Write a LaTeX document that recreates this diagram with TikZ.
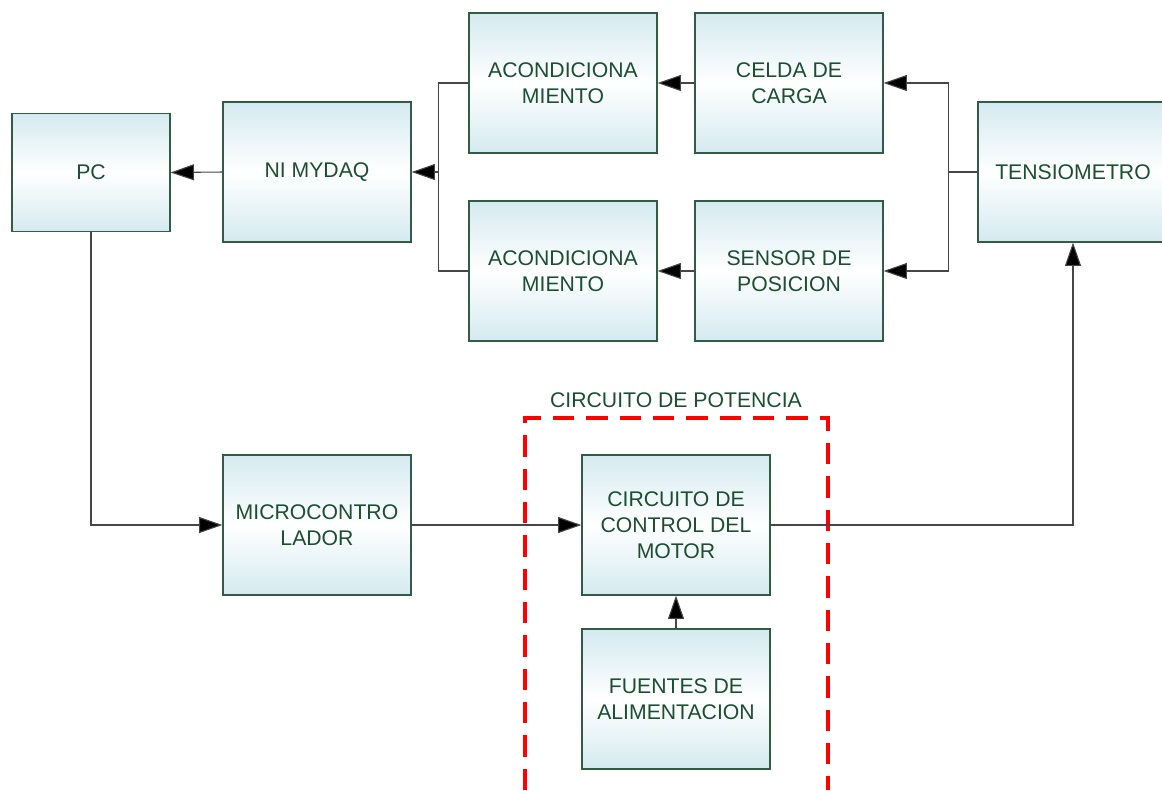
\documentclass[tikz,border=0pt]{standalone}
\usepackage{fontspec}
\setmainfont{Liberation Sans}
\usepackage{tikz}
\usetikzlibrary{positioning,arrows.meta}
\definecolor{boxBlue}{RGB}{212,234,240}
\definecolor{boxBorder}{RGB}{50,92,70}
\definecolor{textGreen}{RGB}{28,78,48}
\definecolor{lineGray}{RGB}{70,70,70}
\tikzstyle{diagram} = [x = 0.75pt, y = -0.75pt]
\tikzstyle{blockStyle} = [draw=boxBorder, line width=0.9pt, top color=boxBlue, bottom color=boxBlue, middle color=white, text=textGreen, font=\fontsize{15.9}{19.5}\selectfont, align=center, minimum width=141pt, minimum height=105pt, inner sep=0pt]
\tikzstyle{smallBlock} = [blockStyle, minimum width=118.5pt, minimum height=89pt]
\tikzstyle{arrowLine} = [draw=lineGray, line width=0.8pt, -{Triangle[length=17.5pt, width=12pt, fill=black]}]
\tikzstyle{plainLine} = [draw=lineGray, line width=0.8pt]
\tikzstyle{powerFrame} = [draw=red, line width=2.3pt, dash pattern=on 16pt off 9pt]
\begin{document}
\begin{tikzpicture}[diagram]
        \useasboundingbox (0,0) rectangle (1162,790);
        % blocks
        \node [smallBlock] (pc) at (91,172.5) {PC};
        \node [blockStyle] (daq) at (317,172) {NI MYDAQ};
        \node [blockStyle] (acondA) at (563,83) {ACONDICIONA\\MIENTO};
        \node [blockStyle] (celda) at (789,83) {CELDA DE\\CARGA};
        \node [blockStyle] (acondB) at (563,271) {ACONDICIONA\\MIENTO};
        \node [blockStyle] (sensor) at (789,271) {SENSOR DE\\POSICION};
        \node [blockStyle, minimum width=142.5pt] (tension) at (1073,172) {TENSIOMETRO};
        \node [blockStyle] (micro) at (317,525) {MICROCONTRO\\LADOR};
        \node [blockStyle] (motor) at (676,525) {CIRCUITO DE\\CONTROL DEL\\MOTOR};
        \node [blockStyle] (fuentes) at (676,699) {FUENTES DE\\ALIMENTACION};

        % circuito de potencia
        \draw [powerFrame] (525,790) -- (525,418) -- (828,418) -- (828,790);
        \node [text=textGreen, font=\fontsize{15.9}{17}\selectfont] (potencia) at (676,400) {CIRCUITO DE POTENCIA};

        % connectors
        \draw [plainLine] (tension.west) -- ++(-29,0) coordinate (tensSplit);
        \draw [arrowLine] (tensSplit) |- (celda.east);
        \draw [arrowLine] (tensSplit) |- (sensor.east);
        \draw [arrowLine] (celda.west) -- (acondA.east);
        \draw [arrowLine] (sensor.west) -- (acondB.east);
        \draw [plainLine] (acondA.west) -- ++(-30,0) coordinate (acondSplitA);
        \draw [plainLine] (acondB.west) -- ++(-30,0) coordinate (acondSplitB);
        \draw [plainLine] (acondSplitA) -- (acondSplitB);
        \draw [arrowLine] (acondSplitA |- daq.east) -- (daq.east);
        \draw [arrowLine] (daq.west) -- (pc.east);
        \draw [arrowLine] (pc.south) |- (micro.west);
        \draw [arrowLine] (micro.east) -- (motor.west);
        \draw [arrowLine] (motor.east) -| (tension.south);
        \draw [arrowLine] (fuentes.north) -- (motor.south);
      \end{tikzpicture}
\end{document}
